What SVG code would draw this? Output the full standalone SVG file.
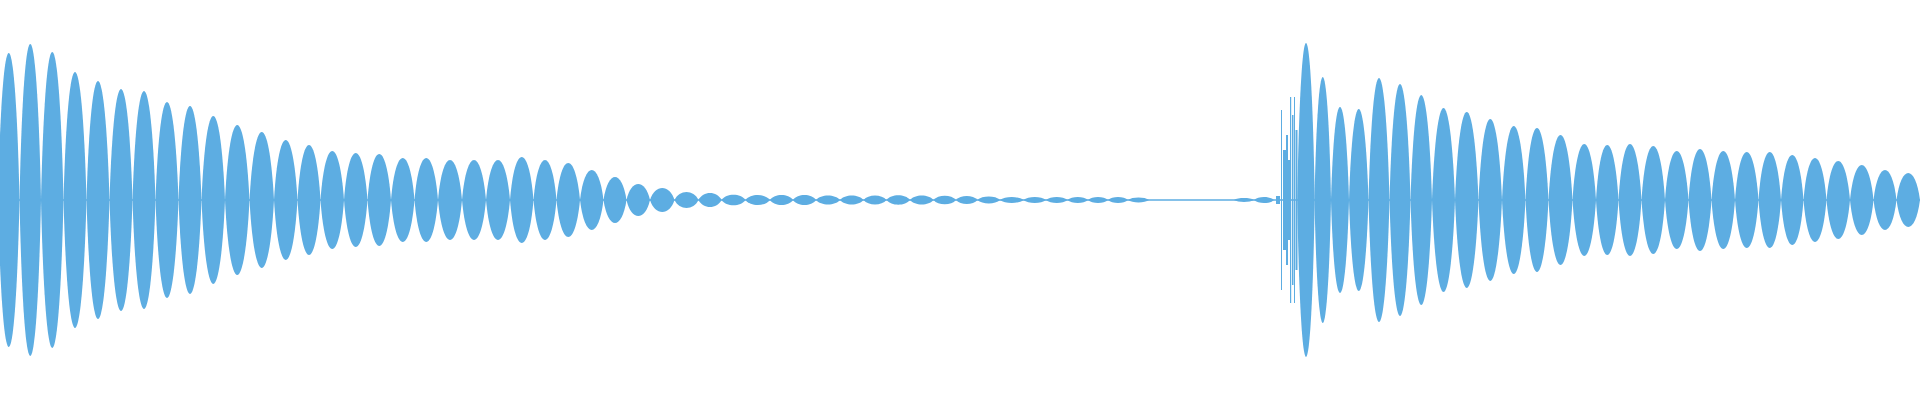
<svg xmlns="http://www.w3.org/2000/svg" width="1920" height="400" viewBox="0 0 1920 400">
<style>.w{fill:#5DADE2;stroke:none}.b{stroke:#5DADE2;stroke-width:1.6}</style>
<defs><path id="L" d="M-0.5 0C-0.3 -1.333 0.3 -1.333 0.5 0C0.3 1.333 -0.3 1.333 -0.5 0Z"/></defs>
<rect width="1920" height="400" fill="#fff"/>
<line class="b" x1="0" y1="200" x2="1920" y2="200"/>
<g class="w">
<use href="#L" transform="translate(8.75 200) scale(21.5 147)"/>
<use href="#L" transform="translate(30.25 200) scale(21.5 156)"/>
<use href="#L" transform="translate(52.25 200) scale(22.5 148)"/>
<use href="#L" transform="translate(75 200) scale(23 128)"/>
<use href="#L" transform="translate(98 200) scale(23 119)"/>
<use href="#L" transform="translate(121 200) scale(23 111)"/>
<use href="#L" transform="translate(144 200) scale(23 109)"/>
<use href="#L" transform="translate(167 200) scale(23 98)"/>
<use href="#L" transform="translate(190 200) scale(23 94)"/>
<use href="#L" transform="translate(213.25 200) scale(23.5 84)"/>
<use href="#L" transform="translate(237.25 200) scale(24.5 75)"/>
<use href="#L" transform="translate(261.75 200) scale(24.5 68)"/>
<use href="#L" transform="translate(285.75 200) scale(23.5 60)"/>
<use href="#L" transform="translate(309 200) scale(23 55)"/>
<use href="#L" transform="translate(332.25 200) scale(23.5 49)"/>
<use href="#L" transform="translate(355.75 200) scale(23.5 47)"/>
<use href="#L" transform="translate(379.25 200) scale(23.5 46)"/>
<use href="#L" transform="translate(402.75 200) scale(23.5 42)"/>
<use href="#L" transform="translate(426.25 200) scale(23.5 42)"/>
<use href="#L" transform="translate(450 200) scale(24 40)"/>
<use href="#L" transform="translate(474 200) scale(24 40)"/>
<use href="#L" transform="translate(498 200) scale(24 40)"/>
<use href="#L" transform="translate(521.75 200) scale(23.5 43)"/>
<use href="#L" transform="translate(545 200) scale(23 40)"/>
<use href="#L" transform="translate(568.25 200) scale(23.5 37)"/>
<use href="#L" transform="translate(591.75 200) scale(23.5 30)"/>
<use href="#L" transform="translate(615 200) scale(23 23)"/>
<use href="#L" transform="translate(638.25 200) scale(23.5 16)"/>
<use href="#L" transform="translate(662.25 200) scale(24.5 12)"/>
<use href="#L" transform="translate(686.5 200) scale(24 8)"/>
<use href="#L" transform="translate(710 200) scale(23 7)"/>
<use href="#L" transform="translate(733.5 200) scale(24 5.3)"/>
<use href="#L" transform="translate(757.75 200) scale(24.5 5)"/>
<use href="#L" transform="translate(781.5 200) scale(23 5)"/>
<use href="#L" transform="translate(804.5 200) scale(23 5)"/>
<use href="#L" transform="translate(828 200) scale(24 4.5)"/>
<use href="#L" transform="translate(851.75 200) scale(23.5 4.5)"/>
<use href="#L" transform="translate(875 200) scale(23 4.5)"/>
<use href="#L" transform="translate(898.25 200) scale(23.5 4.7)"/>
<use href="#L" transform="translate(921.75 200) scale(23.5 4.5)"/>
<use href="#L" transform="translate(944.75 200) scale(22.5 4.3)"/>
<use href="#L" transform="translate(966.75 200) scale(21.5 4)"/>
<use href="#L" transform="translate(988.75 200) scale(22.5 3.5)"/>
<use href="#L" transform="translate(1011.75 200) scale(23.5 3)"/>
<use href="#L" transform="translate(1034.75 200) scale(22.5 3)"/>
<use href="#L" transform="translate(1056.75 200) scale(21.5 3)"/>
<use href="#L" transform="translate(1077.75 200) scale(20.5 3)"/>
<use href="#L" transform="translate(1098 200) scale(20 3)"/>
<use href="#L" transform="translate(1118 200) scale(20 3)"/>
<use href="#L" transform="translate(1138.5 200) scale(21 2.5)"/>
<use href="#L" transform="translate(1244 200) scale(20 2)"/>
<use href="#L" transform="translate(1264 200) scale(20 3)"/>
<use href="#L" transform="translate(1306 200) scale(17.5 157)"/>
<use href="#L" transform="translate(1322.75 200) scale(16.5 123)"/>
<use href="#L" transform="translate(1340 200) scale(18 93)"/>
<use href="#L" transform="translate(1358.75 200) scale(19.5 91)"/>
<use href="#L" transform="translate(1379 200) scale(21 122)"/>
<use href="#L" transform="translate(1400 200) scale(21 116)"/>
<use href="#L" transform="translate(1421.25 200) scale(21.5 105)"/>
<use href="#L" transform="translate(1443.5 200) scale(23 92)"/>
<use href="#L" transform="translate(1466.75 200) scale(23.5 88)"/>
<use href="#L" transform="translate(1490.25 200) scale(23.5 81)"/>
<use href="#L" transform="translate(1513.75 200) scale(23.5 74)"/>
<use href="#L" transform="translate(1537 200) scale(23 72)"/>
<use href="#L" transform="translate(1560.5 200) scale(24 65)"/>
<use href="#L" transform="translate(1584.25 200) scale(23.5 56)"/>
<use href="#L" transform="translate(1607.25 200) scale(22.5 55)"/>
<use href="#L" transform="translate(1630 200) scale(23 56)"/>
<use href="#L" transform="translate(1653.25 200) scale(23.5 54)"/>
<use href="#L" transform="translate(1676.75 200) scale(23.5 49)"/>
<use href="#L" transform="translate(1700 200) scale(23 51)"/>
<use href="#L" transform="translate(1723.25 200) scale(23.5 49)"/>
<use href="#L" transform="translate(1746.75 200) scale(23.5 48)"/>
<use href="#L" transform="translate(1769.75 200) scale(22.5 48)"/>
<use href="#L" transform="translate(1792.25 200) scale(22.5 45)"/>
<use href="#L" transform="translate(1815 200) scale(23 42)"/>
<use href="#L" transform="translate(1838.25 200) scale(23.5 39)"/>
<use href="#L" transform="translate(1861.75 200) scale(23.5 35)"/>
<use href="#L" transform="translate(1885 200) scale(23 30)"/>
<use href="#L" transform="translate(1908.25 200) scale(23.5 27)"/>
<rect x="1276" y="196" width="4" height="8"/>
<rect x="1281" y="110" width="1" height="180"/>
<rect x="1283" y="150" width="3" height="100"/>
<rect x="1286" y="135" width="2" height="130"/>
<rect x="1288" y="160" width="2" height="80"/>
<rect x="1290" y="97" width="1.2" height="206"/>
<rect x="1292" y="115" width="1.5" height="170"/>
<rect x="1294" y="97" width="1" height="206"/>
<rect x="1295.5" y="130" width="2" height="140"/>
</g>
</svg>
